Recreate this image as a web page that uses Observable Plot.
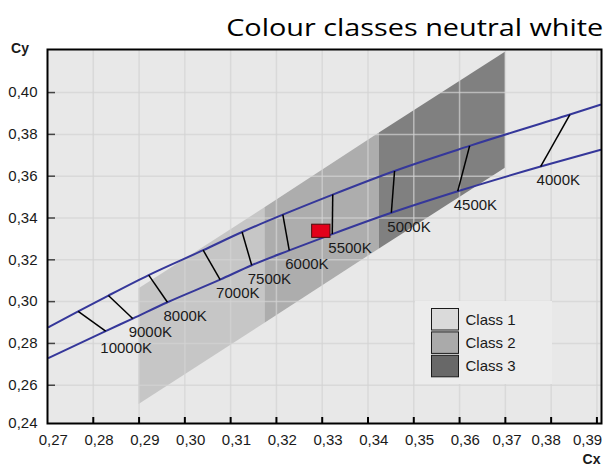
<!DOCTYPE html>
<html>
<head>
<meta charset="utf-8">
<script src="https://cdn.jsdelivr.net/npm/d3@7"></script>
<script src="https://cdn.jsdelivr.net/npm/@observablehq/plot@0.6"></script>
<style>
  html, body { margin: 0; padding: 0; background: #ffffff; }
</style>
</head>
<body>
<div id="chart"></div>
<script>
// ---- data ----
const xTicks = [0.27, 0.28, 0.29, 0.30, 0.31, 0.32, 0.33, 0.34, 0.35, 0.36, 0.37, 0.38, 0.39];
const yTicks = [0.24, 0.26, 0.28, 0.30, 0.32, 0.34, 0.36, 0.38, 0.40];

// colour class bands (x, lower edge, upper edge)
const classNames = ["Class 1", "Class 2", "Class 3"];
const class1X = [0.29, 0.3175], class1Lo = [0.2508, 0.2896], class1Hi = [0.3061, 0.3449];
const class2X = [0.3175, 0.3425], class2Lo = [0.2896, 0.3252], class2Hi = [0.3449, 0.3806];
const class3X = [0.3425, 0.37], class3Lo = [0.3252, 0.3638], class3Hi = [0.3806, 0.4193];

// isotemperature lines (upper end, lower end)
const tempLabels = ["10000K", "9000K", "8000K", "7000K", "7500K", "6000K", "5500K", "5000K", "4500K", "4000K"];
const isoUpperX = [0.2767, 0.2833, 0.2921, 0.3040, 0.3125, 0.3214, 0.3323, 0.3458, 0.3622, 0.3841];
const isoUpperY = [0.2953, 0.3029, 0.3127, 0.3246, 0.3333, 0.3416, 0.3512, 0.3625, 0.3745, 0.3895];
const isoLowerX = [0.2827, 0.2886, 0.2962, 0.3077, 0.3146, 0.3228, 0.3322, 0.3451, 0.3596, 0.3777];
const isoLowerY = [0.2859, 0.2919, 0.2997, 0.3105, 0.3174, 0.3245, 0.3323, 0.3425, 0.3528, 0.3646];

// boundary curves at the left and right frame edges
const curveEdgeX = [0.2703, 0.3908];
const upperEdgeY = [0.2878, 0.3942];
const lowerEdgeY = [0.2731, 0.3726];

// red target square
const targetX = [0.3278, 0.3318];
const targetY = [0.3305, 0.3368];

// ---- build tables ----
const fmt = d => d.toFixed(2).replace(".", ",");
const xDomain = [0.27, 0.391];
const yDomain = [0.2417, 0.4206];

const bands = [];
[[class1X, class1Lo, class1Hi], [class2X, class2Lo, class2Hi], [class3X, class3Lo, class3Hi]].forEach(([xs, lo, hi], k) => {
  xs.forEach((x, i) => bands.push({cls: classNames[k], x, lo: lo[i], hi: hi[i]}));
});
const upper = [{x: curveEdgeX[0], y: upperEdgeY[0]}, ...isoUpperX.map((x, i) => ({x, y: isoUpperY[i]})), {x: curveEdgeX[1], y: upperEdgeY[1]}];
const lower = [{x: curveEdgeX[0], y: lowerEdgeY[0]}, ...isoLowerX.map((x, i) => ({x, y: isoLowerY[i]})), {x: curveEdgeX[1], y: lowerEdgeY[1]}];
const isos = tempLabels.map((t, i) => ({t, x1: isoUpperX[i], y1: isoUpperY[i], x2: isoLowerX[i], y2: isoLowerY[i]}));

const W = 606, H = 466, mL = 47, mR = 5, mT = 49, mB = 43;
const plotW = W - mL - mR, plotH = H - mT - mB;
const bandColors = {"Class 1": "#c6c6c6", "Class 2": "#adadad", "Class 3": "#808080"};
const legendColors = ["#dadada", "#aaaaaa", "#686868"];
const blue = "#35379a";
const axisOpts = {tickSize: 0, tickPadding: 11, tickFormat: fmt, label: null, fontSize: 15};

const chart = Plot.plot({
  width: W, height: H,
  marginLeft: mL, marginRight: mR, marginTop: mT, marginBottom: mB,
  style: {fontFamily: "'Liberation Sans', Arial, sans-serif", fontSize: "15px", color: "#1a1a1a", background: "#ffffff", overflow: "visible"},
  x: {domain: xDomain},
  y: {domain: yDomain},
  marks: [
    Plot.frame({fill: "#e8e8e8", stroke: null}),
    Plot.areaY(bands, {x: "x", y1: "lo", y2: "hi", z: "cls", fill: d => bandColors[d.cls], curve: "linear"}),
    Plot.gridX(xTicks.slice(1), {stroke: "#d3d3d3", strokeOpacity: 0.7, strokeWidth: 1.5}),
    Plot.gridY(yTicks.slice(1), {stroke: "#d3d3d3", strokeOpacity: 0.7, strokeWidth: 1.5}),
    Plot.line(upper, {x: "x", y: "y", curve: "monotone-x", stroke: blue, strokeWidth: 2}),
    Plot.line(lower, {x: "x", y: "y", curve: "monotone-x", stroke: blue, strokeWidth: 2}),
    Plot.link(isos, {x1: "x1", y1: "y1", x2: "x2", y2: "y2", stroke: "#000", strokeWidth: 1.5}),
    Plot.text(isos.slice(0, 1), {x: "x2", y: "y2", text: "t", textAnchor: "start", lineAnchor: "middle", dx: -5.3, dy: 17.5, fontSize: 15, fill: "#1a1a1a"}),
    Plot.text(isos.slice(1), {x: "x2", y: "y2", text: "t", textAnchor: "start", lineAnchor: "middle", dx: -4, dy: 14, fontSize: 15, fill: "#1a1a1a"}),
    Plot.rect([0], {x1: () => targetX[0], x2: () => targetX[1], y1: () => targetY[0], y2: () => targetY[1], fill: "#e2001a", stroke: "#4a0d0d", strokeWidth: 1}),
    Plot.ruleX(xTicks.slice(1), {x: d => d, insetTop: plotH - 6, stroke: "#000", strokeWidth: 2}),
    Plot.ruleY(yTicks.slice(1), {y: d => d, insetRight: plotW - 8, stroke: "#444", strokeWidth: 1.5}),
    Plot.frame({stroke: "#000", strokeWidth: 2}),
    Plot.axisX(xTicks.slice(0, 10), {...axisOpts, dx: 5.8}),
    Plot.axisX(xTicks.slice(10, 11), {...axisOpts, dx: 1.7}),
    Plot.axisX(xTicks.slice(11, 12), {...axisOpts, dx: -5}),
    Plot.axisX(xTicks.slice(12), {...axisOpts, dx: -9.4}),
    Plot.axisY(yTicks.map(v => Math.max(v, yDomain[0])), {...axisOpts, tickPadding: 10}),
    Plot.text(["Cy"], {frameAnchor: "top-left", text: d => d, dx: -27.5, dy: 3.3, lineAnchor: "bottom", textAnchor: "middle", fontWeight: "bold", fontSize: 14}),
    Plot.text(["Cx"], {frameAnchor: "bottom-right", text: d => d, dx: -1, dy: 40, lineAnchor: "bottom", textAnchor: "end", fontWeight: "bold", fontSize: 14}),
    Plot.text(["Colour classes neutral white"], {frameAnchor: "top-right", text: d => d, dx: 1.7, dy: -13.3, lineAnchor: "bottom", textAnchor: "end", fontSize: 24, fontFamily: "'Open Sans', sans-serif", fill: "#000", className: "title-text"})
  ]
});

// legend
const svg = d3.select(chart);
const lg = svg.append("g").attr("font-family", "'Liberation Sans', Arial, sans-serif").attr("font-size", 15).attr("text-anchor", "start");
lg.append("rect").attr("x", 415).attr("y", 301).attr("width", 137).attr("height", 83).attr("fill", "#ececec");
classNames.forEach((c, i) => {
  lg.append("rect").attr("x", 431.5).attr("y", 308.5 + i * 23.4).attr("width", 27).attr("height", 21.5)
    .attr("fill", legendColors[i]).attr("stroke", "#1a1a1a").attr("stroke-width", 1);
  lg.append("text").attr("x", 465.5).attr("y", 319.3 + i * 23.4).attr("dy", "0.35em").attr("fill", "#1a1a1a").text(c);
});
// fit title width
svg.selectAll(".title-text text").attr("textLength", 377).attr("lengthAdjust", "spacingAndGlyphs");

document.getElementById("chart").appendChild(chart);
</script>
</body>
</html>
